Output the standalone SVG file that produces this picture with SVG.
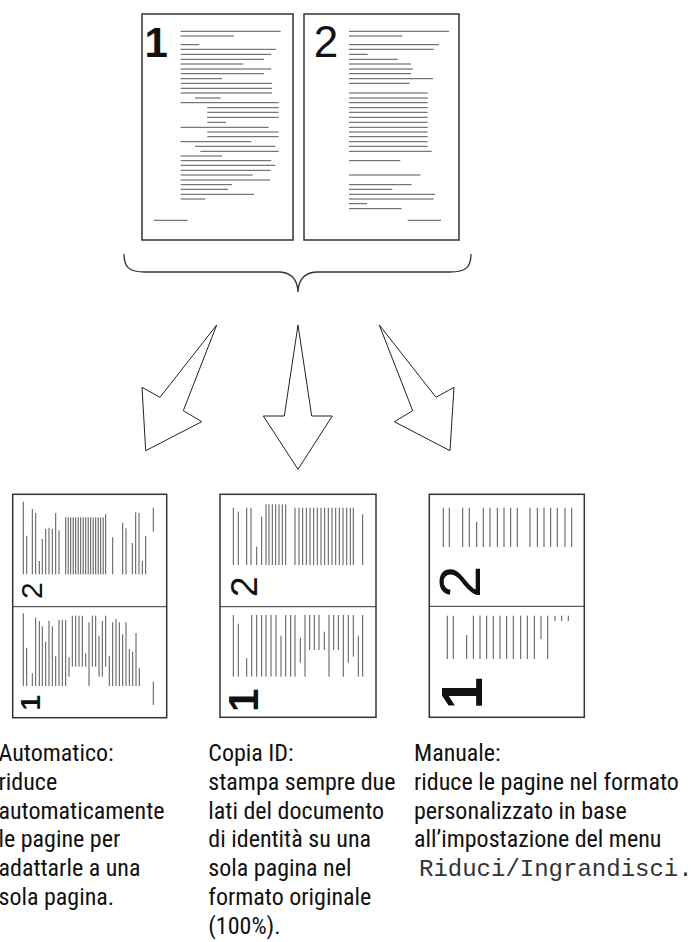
<svg xmlns="http://www.w3.org/2000/svg" width="691" height="942" viewBox="0 0 691 942">
<style>
.page{fill:#fff;stroke:#333;stroke-width:1.5}
.ln{fill:none;stroke:#555;stroke-width:1}
.div{fill:none;stroke:#333;stroke-width:1}
.num{font-family:"Liberation Sans",Arial,sans-serif;fill:#111}
.b{font-weight:bold}
.arrow{fill:#fff;stroke:#222;stroke-width:1;stroke-linejoin:miter}
.brace{fill:none;stroke:#333;stroke-width:1.3}
.cap{font-family:"Liberation Sans Narrow","Roboto Condensed","DejaVu Sans Condensed",sans-serif;font-size:24px;fill:#111}
.mono{font-family:"Liberation Mono","Courier New",monospace;font-size:24px;fill:#333}
</style>

<g id="source-page-1">
<rect class="page" x="142" y="14" width="151" height="226"/>
<text class="num b" x="144.5" y="57" font-size="42">1</text>
<path class="ln" d="M180.7 31.3H280.7M180.7 36H234M180.7 44.7H199.3M180.7 49.3H276M180.7 54.3H271.3M180.7 59.3H264M180.7 64H243.3M180.7 69H271.3M180.7 73.7H264M180.7 78.7H222M180.7 83.3H272M180.7 88.3H272M180.7 93H272M195 98H220.7M180.7 102.7H278.7M207.3 107.7H278.7M207.3 112.3H278.7M207.3 117.3H278.7M207.3 122.3H226M180.7 127.3H268.7M207.3 132H278.7M207.3 136.7H278.7M180.7 141.7H251.3M195 146.3H275.3M200.3 151.3H278.7M180.7 156H222M180.7 160.7H271.3M180.7 165.3H275.3M180.7 170.3H270.7M180.7 175H252.7M180.7 180H270M180.7 184.7H232M180.7 189.3H228M180.7 194.3H254M180.7 199H205.3M154 220.3H187.7"/>
</g>

<g id="source-page-2">
<rect class="page" x="304" y="14" width="155" height="226"/>
<text class="num" x="313.7" y="57" font-size="44">2</text>
<path class="ln" d="M349 31.3H449M349 36H402.3M349 44.7H439M349 49.3H433.7M349 54.3H367.7M349 59.3H397.7M349 64H411M349 69H413M349 73.7H411M349 78.7H433M349 83.3H409.7M349 93H427.7M349 98H427.7M349 102.7H427.7M349 107.7H427.7M349 112.3H427.7M349 117.3H427.7M349 122.3H427.7M349 127.3H427.7M349 132H427.7M349 136.7H427.7M349 141.7H427.7M349 146.3H427.7M349 151.3H431.7M349 160.7H400.3M349 175H420.3M349 184.7H411.7M349 189.3H392.3M349 194.3H435M349 199H433.7M349 203.7H367M349 208.7H401.7M407.7 220.3H441"/>
</g>

<g id="connectors">
<path id="brace" class="brace" d="M124 254C124 267 129 272 145 272L278 272C292 272 297.5 280 298 292M471 254C471 267 466 272 450 272L318 272C304 272 298.5 280 298 292"/>
<polygon id="arrow-left" class="arrow" points="216.7,325 160,397.3 142,387.3 145.7,450.7 201.7,421.7 183.3,410.7"/>
<polygon id="arrow-center" class="arrow" points="298,325 284.3,416 263.3,416 298,469.3 332.3,416 311.7,416"/>
<polygon id="arrow-right" class="arrow" points="379.3,325 436,397.3 454,387.3 450,450.7 394.3,421.7 412.7,410.7"/>
</g>

<g id="result-auto">
<rect class="page" x="12.7" y="494.3" width="154" height="223.4"/>
<path class="div" d="M12.7 606.7H166.7"/>
<path class="ln" d="M23.3 574.3V501.7M26.7 574.3V535.7M32.3 574.3V509M35.7 574.3V513M39.3 574.3V561M42.3 574.3V539M45.7 574.3V529M49 574.3V527.7M52.3 574.3V529M55.7 574.3V513M59 574.3V530.3M65.7 574.3V517.3M68.2 574.3V517.3M70.7 574.3V517.3M73.2 574.3V517.3M75.7 574.3V517.3M78.2 574.3V517.3M80.7 574.3V517.3M83.2 574.3V517.3M85.7 574.3V517.3M88.2 574.3V517.3M90.7 574.3V517.3M93.2 574.3V517.3M95.7 574.3V517.3M98.2 574.3V517.3M100.7 574.3V517.3M103.2 574.3V517.3M105.7 574.3V514.3M112.7 574.3V537.3M122.7 574.3V522.7M126 574.3V528.3M132.3 574.3V543M135.7 574.3V512.3M139 574.3V513M142.3 574.3V561M145.7 574.3V536M153.3 531.7V507.7"/>
<path class="ln" d="M23.3 686V613.3M26.7 686V647.7M32.3 686V673.3M35.7 686V617.7M39.3 686V621M42.3 686V626.3M45.7 686V641.7M49 686V620.7M52.3 686V626.3M55.7 686V656.3M59 686V620M62.3 686V620M65.7 686V620M69 676.7V657.3M72.3 666.7V615.7M75.7 666.7V615.7M79 666.7V615.7M82.3 666.7V615.7M85.7 666.7V653.3M89 686V622.3M92.3 666.7V615.7M95.7 666.7V615.7M99 676.7V635.7M102.3 676.7V621M105.7 666.7V615.7M109.3 686V656M112.7 686V622.3M116 686V619M119.3 686V622.3M122.7 686V634.3M126 686V622.3M129.3 686V649M132.7 686V651.7M136 686V633M139.3 686V668.3M153.3 705V681.7"/>
<text class="num" transform="translate(41.7,599) rotate(-90)" font-size="30">2</text>
<text class="num b" transform="translate(40,710.5) rotate(-90)" font-size="28">1</text>
</g>

<g id="result-id">
<rect class="page" x="220" y="494.3" width="156" height="223"/>
<path class="div" d="M220 606.7H376"/>
<path class="ln" d="M233.3 565V507.7M238.3 565V511.7M246.7 565V507.7M251 565V507.7M256.7 565V546.7M261.7 565V516.7M266 565V504.3M269 565V504.3M272.3 565V504.3M275.7 565V504.3M279 565V504.3M282.3 565V504.3M285.7 565V504.3M295 565V507.7M299 565V507.7M302.7 565V507.7M306.3 565V507.7M310 565V507.7M313.7 565V507.7M317.3 565V507.7M321 565V507.7M324.7 565V507.7M328.3 565V507.7M332 565V507.7M335.7 565V507.7M339.3 565V507.7M343 565V507.7M346.7 565V507.7M350.3 565V507.7M353.3 565V507.7M362.7 565V514.3"/>
<path class="ln" d="M233.3 676.7V615M238.3 676.7V623.7M246.7 676.7V658.3M251.7 676.7V615M256.7 676.7V615M261.7 676.7V615M266 676.7V615M271 676.7V615M276 676.7V615M281 676.7V635.7M285.7 676.7V615M290.7 676.7V615M295 676.7V615M300.3 662.7V637.7M305 676.7V615M309.7 650V615M314.3 650V615M319 650V615M324.3 650V631.7M329 676.7V615M333.7 650V615M338.3 650V615M343.3 676.7V615M348.3 662.7V615M353.3 656.7V615M358.3 676.7V635.7M362.7 676.7V615"/>
<text class="num" transform="translate(256.7,597) rotate(-90)" font-size="37">2</text>
<text class="num b" transform="translate(258,712) rotate(-90)" font-size="42">1</text>
</g>

<g id="result-manual">
<rect class="page" x="429.3" y="494.3" width="155" height="223"/>
<path class="div" d="M429.3 606.3H584.3"/>
<path class="ln" d="M443.3 547V507.7M449.3 547V507.7M462.7 547V507.7M469.3 547V507.7M476.7 547V521.7M483.3 547V507.7M490 547V507.7M497.3 547V507.7M504 547V507.7M510.7 547V507.7M517.3 547V507.7M530 547V507.7M537.3 547V507.7M544 547V507.7M550.7 547V507.7M557.3 547V507.7M565 547V507.7M571.7 547V507.7"/>
<path class="ln" d="M447.3 659V615.7M453.3 659V615.7M466.7 659V635M473.3 659V615.7M480 659V615.7M486.7 659V615.7M493.3 659V615.7M500 659V615.7M506.7 659V615.7M513.3 659V615.7M520.7 659V615.7M527.3 659V615.7M534.3 659V615.7M541 639.3V615.7M547.7 659V615.7M555 621V615.7M561.7 621V615.7M568.3 621V615.7"/>
<text class="num" transform="translate(480,598) rotate(-90)" font-size="58">2</text>
<text class="num b" transform="translate(482,709.5) rotate(-90)" font-size="58">1</text>
</g>

<g id="caption-auto" class="cap">
<text x="-1.5" y="761">Automatico:</text>
<text x="-1.5" y="789.8">riduce</text>
<text x="-1.5" y="818.6">automaticamente</text>
<text x="-1.5" y="847.4">le pagine per</text>
<text x="-1.5" y="876.2">adattarle a una</text>
<text x="-1.5" y="905">sola pagina.</text>
</g>

<g id="caption-id" class="cap">
<text x="208.3" y="761">Copia ID:</text>
<text x="208.3" y="789.8">stampa sempre due</text>
<text x="208.3" y="818.6">lati del documento</text>
<text x="208.3" y="847.4">di identità su una</text>
<text x="208.3" y="876.2">sola pagina nel</text>
<text x="208.3" y="905">formato originale</text>
<text x="208.3" y="933.8">(100%).</text>
</g>

<g id="caption-manual" class="cap">
<text x="414" y="761">Manuale:</text>
<text x="414" y="789.8">riduce le pagine nel formato</text>
<text x="414" y="818.6">personalizzato in base</text>
<text x="414" y="847.4">all’impostazione del menu</text>
<text class="mono" x="419" y="876.2">Riduci/Ingrandisci.</text>
</g>
</svg>
